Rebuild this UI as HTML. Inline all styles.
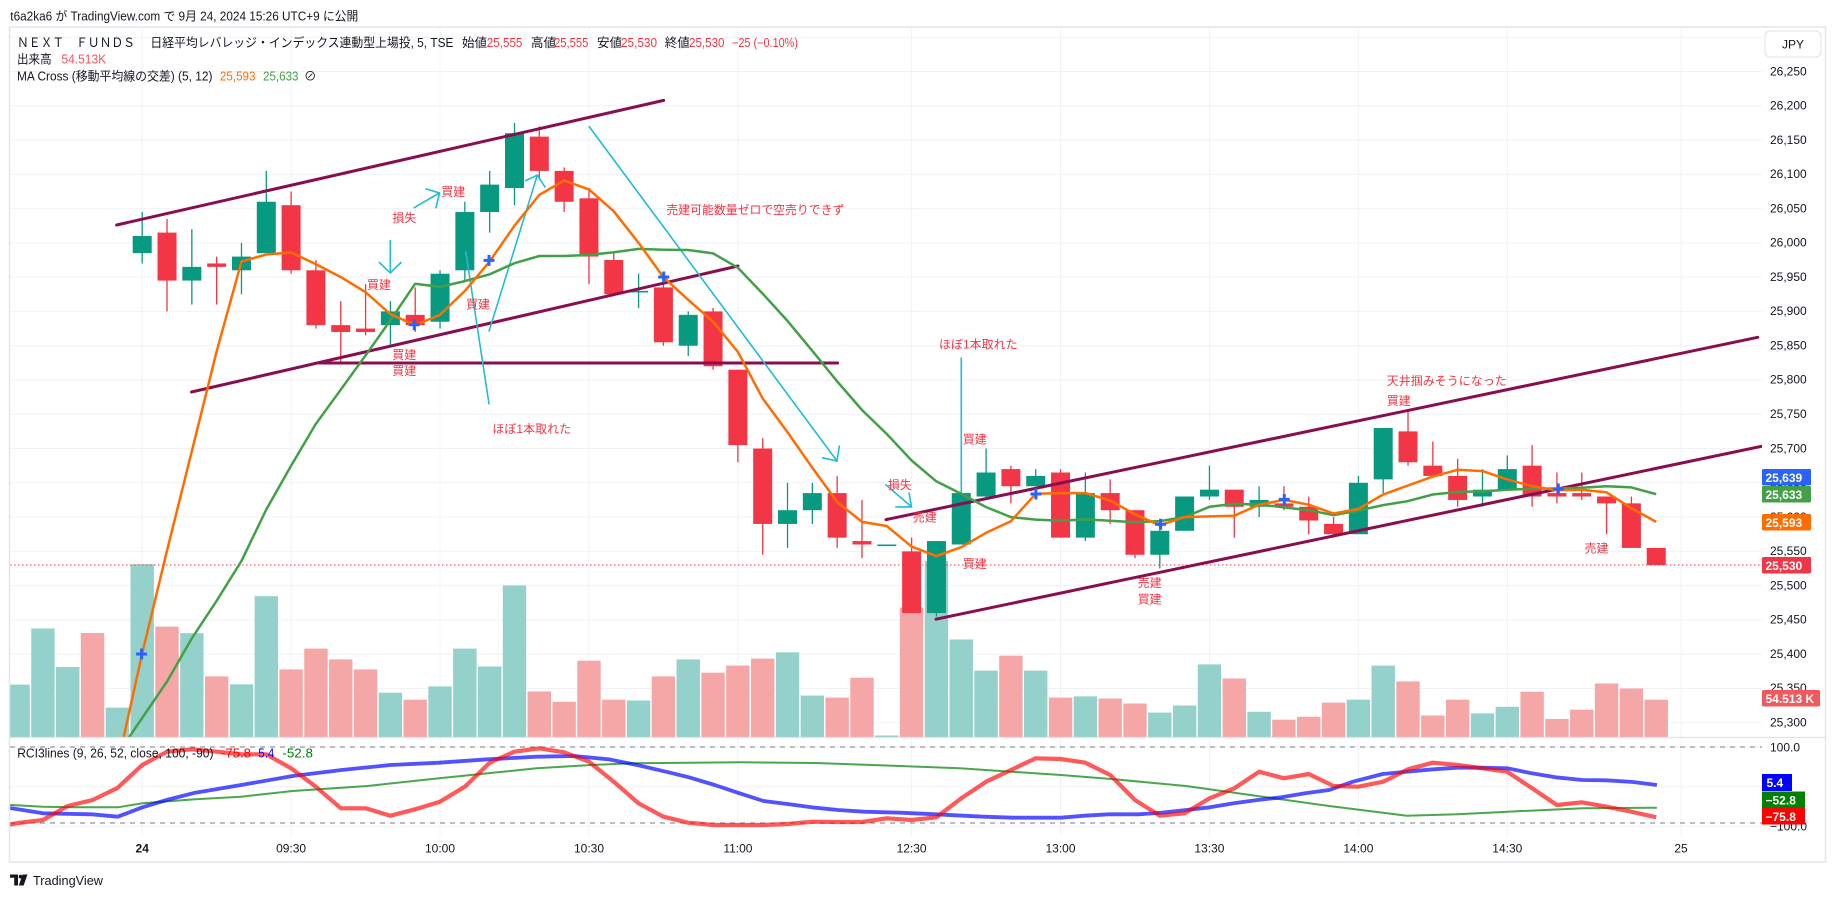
<!DOCTYPE html>
<html><head><meta charset="utf-8">
<style>
html,body{margin:0;padding:0;background:#fff;width:1835px;height:897px;overflow:hidden}
svg{position:absolute;left:0;top:0;font-family:"Liberation Sans","Noto Sans CJK JP",sans-serif}
.t{fill:#131722;font-size:12.5px}
.a{fill:#f23645;font-size:12px;text-anchor:middle}
.as{fill:#f23645;font-size:12px}
.ax{fill:#131722;font-size:12px}
.tm{fill:#131722;font-size:12px;text-anchor:middle}
.bx{fill:#fff;font-size:12px;font-weight:bold}
</style></head>
<body>
<svg id="s" width="1835" height="897" xmlns="http://www.w3.org/2000/svg">
<defs>
<clipPath id="cm"><rect x="10" y="28" width="1752" height="709"/></clipPath>
<clipPath id="cr"><rect x="10" y="738" width="1752" height="98"/></clipPath>
</defs>
<rect x="0" y="0" width="1835" height="897" fill="#fff"/>
<g id="grid"></g>
<g id="main" clip-path="url(#cm)"></g>
<g id="draw" clip-path="url(#cm)">
<g stroke="#880e4f" stroke-width="3" stroke-linecap="round" fill="none">
<line x1="116.6" y1="225" x2="663.7" y2="100.4"/>
<line x1="191.5" y1="392" x2="738" y2="266"/>
<line x1="319.5" y1="363" x2="837.6" y2="363"/>
<line x1="886" y1="519.6" x2="1757.7" y2="337.3"/>
<line x1="936" y1="619.2" x2="1762" y2="446.2"/>
</g>
<g stroke="#22bcd6" stroke-width="1.6" fill="none" stroke-linecap="round">
<line x1="390.3" y1="240.5" x2="390.3" y2="272.9"/>
<polyline points="379.3,262.5 390.3,272.9 401,262.5"/>
<line x1="414.3" y1="207.6" x2="439.4" y2="193"/>
<polyline points="426,188.9 439.6,193.1 436,207.6"/>
<line x1="465.8" y1="252" x2="489" y2="403.8"/>
<line x1="489.1" y1="331" x2="537.3" y2="175.2"/>
<polyline points="525.7,180.6 537.3,175.2 545,187"/>
<line x1="589.2" y1="126.6" x2="837" y2="461"/>
<polyline points="822.7,457.8 837,461 839.3,446.2"/>
<line x1="885.9" y1="484.8" x2="911.5" y2="506.9"/>
<polyline points="895.8,506.9 911.5,506.9 909.1,493.2"/>
<line x1="961.3" y1="358" x2="961.3" y2="494"/>
</g>
</g>
<g id="mas" clip-path="url(#cm)"></g>
<g id="cross"></g>
<g id="rci" clip-path="url(#cr)"></g>

<!-- frame -->
<rect x="9.5" y="27" width="1816" height="835" fill="none" stroke="#e3e6ec" stroke-width="1.5"/>
<line x1="10" y1="737.5" x2="1826" y2="737.5" stroke="#e0e3eb" stroke-width="1.2"/>

<!-- header -->
<text x="10.3" y="20.5" class="t" font-size="13" textLength="348" lengthAdjust="spacingAndGlyphs">t6a2ka6 が TradingView.com で 9月 24, 2024 15:26 UTC+9 に公開</text>

<!-- legend -->
<text x="17" y="47" class="t" textLength="118" lengthAdjust="spacingAndGlyphs">ＮＥＸＴ　ＦＵＮＤＳ</text>
<text x="150.4" y="47" class="t" textLength="303" lengthAdjust="spacingAndGlyphs">日経平均レバレッジ・インデックス連動型上場投, 5, TSE</text>
<text x="462" y="47" class="t">始値</text><text x="486.8" y="47" class="t" style="fill:#f23645" textLength="35.6" lengthAdjust="spacingAndGlyphs">25,555</text>
<text x="531" y="47" class="t">高値</text><text x="554" y="47" class="t" style="fill:#f23645" textLength="34.4" lengthAdjust="spacingAndGlyphs">25,555</text>
<text x="597" y="47" class="t">安値</text><text x="621" y="47" class="t" style="fill:#f23645" textLength="36" lengthAdjust="spacingAndGlyphs">25,530</text>
<text x="664.8" y="47" class="t">終値</text><text x="689" y="47" class="t" style="fill:#f23645" textLength="35.5" lengthAdjust="spacingAndGlyphs">25,530</text>
<text x="732" y="47" class="t" style="fill:#f23645" textLength="66" lengthAdjust="spacingAndGlyphs">−25 (−0.10%)</text>
<text x="17" y="63.7" class="t" textLength="34.7" lengthAdjust="spacingAndGlyphs">出来高</text>
<text x="61.4" y="63.7" class="t" style="fill:#f7525f" textLength="44.8" lengthAdjust="spacingAndGlyphs">54.513K</text>
<text x="17" y="80.4" class="t" textLength="195.4" lengthAdjust="spacingAndGlyphs">MA Cross (移動平均線の交差) (5, 12)</text>
<text x="219.9" y="80.4" class="t" style="fill:#ff6d00" textLength="35.6" lengthAdjust="spacingAndGlyphs">25,593</text>
<text x="263" y="80.4" class="t" style="fill:#43a047" textLength="35.5" lengthAdjust="spacingAndGlyphs">25,633</text>
<text x="304" y="80.4" class="t">⊘</text>

<!-- annotations -->
<text x="404.3" y="221.9" class="a">損失</text>
<text x="453.2" y="196.1" class="a">買建</text>
<text x="379" y="288.8" class="a">買建</text>
<text x="478" y="308.3" class="a">買建</text>
<text x="404.3" y="359.1" class="a">買建</text>
<text x="404.3" y="374.8" class="a">買建</text>
<text x="492.4" y="433" class="as">ほぼ1本取れた</text>
<text x="666.4" y="214" class="as" textLength="178" lengthAdjust="spacingAndGlyphs">売建可能数量ゼロで空売りできず</text>
<text x="939" y="348.7" class="as">ほぼ1本取れた</text>
<text x="974.7" y="443.3" class="a">買建</text>
<text x="899.8" y="489.1" class="a">損失</text>
<text x="924.8" y="521.6" class="a">売建</text>
<text x="974.7" y="568.1" class="a">買建</text>
<text x="1149.6" y="586.8" class="a">売建</text>
<text x="1149.6" y="603.4" class="a">買建</text>
<text x="1386.7" y="385.2" class="as">天井掴みそうになった</text>
<text x="1386.7" y="405.2" class="as">買建</text>
<text x="1596.5" y="552.7" class="a">売建</text>

<!-- RCI legend -->
<text x="17.2" y="757.5" class="t" textLength="196.3" lengthAdjust="spacingAndGlyphs">RCI3lines (9, 26, 52, close, 100, -90)</text>
<text x="221" y="757.5" class="t" style="fill:#ff0000" textLength="30" lengthAdjust="spacingAndGlyphs">-75.8</text>
<text x="258.3" y="757.5" class="t" style="fill:#0000ff" textLength="16" lengthAdjust="spacingAndGlyphs">5.4</text>
<text x="282.4" y="757.5" class="t" style="fill:#008000" textLength="30.5" lengthAdjust="spacingAndGlyphs">-52.8</text>

<g id="paxis"></g>

<!-- time axis -->
<text x="142.2" y="852.5" class="tm" font-weight="bold">24</text>
<text x="291.1" y="852.5" class="tm">09:30</text>
<text x="440" y="852.5" class="tm">10:00</text>
<text x="589" y="852.5" class="tm">10:30</text>
<text x="737.9" y="852.5" class="tm">11:00</text>
<text x="911.6" y="852.5" class="tm">12:30</text>
<text x="1060.5" y="852.5" class="tm">13:00</text>
<text x="1209.4" y="852.5" class="tm">13:30</text>
<text x="1358.4" y="852.5" class="tm">14:00</text>
<text x="1507.3" y="852.5" class="tm">14:30</text>
<text x="1681" y="852.5" class="tm">25</text>

<!-- price axis labels -->
<text x="1770" y="75.3" class="ax">26,250</text>
<text x="1770" y="109.6" class="ax">26,200</text>
<text x="1770" y="143.9" class="ax">26,150</text>
<text x="1770" y="178.1" class="ax">26,100</text>
<text x="1770" y="212.4" class="ax">26,050</text>
<text x="1770" y="246.7" class="ax">26,000</text>
<text x="1770" y="280.9" class="ax">25,950</text>
<text x="1770" y="315.2" class="ax">25,900</text>
<text x="1770" y="349.5" class="ax">25,850</text>
<text x="1770" y="383.7" class="ax">25,800</text>
<text x="1770" y="418" class="ax">25,750</text>
<text x="1770" y="452.3" class="ax">25,700</text>
<text x="1770" y="486.5" class="ax">25,650</text>
<text x="1770" y="520.8" class="ax">25,600</text>
<text x="1770" y="555.1" class="ax">25,550</text>
<text x="1770" y="589.3" class="ax">25,500</text>
<text x="1770" y="623.6" class="ax">25,450</text>
<text x="1770" y="657.9" class="ax">25,400</text>
<text x="1770" y="692.1" class="ax">25,350</text>
<text x="1770" y="726.4" class="ax">25,300</text>
<text x="1770" y="751.5" class="ax">100.0</text>
<text x="1770" y="830.5" class="ax">−100.0</text>

<!-- value boxes -->
<rect x="1762" y="469" width="49" height="16.5" rx="1.5" fill="#2962ff"/><text x="1765.5" y="481.8" class="bx">25,639</text>
<rect x="1762" y="486" width="49" height="16.5" rx="1.5" fill="#43a047"/><text x="1765.5" y="498.8" class="bx">25,633</text>
<rect x="1762" y="514" width="49" height="16.5" rx="1.5" fill="#ff6d00"/><text x="1765.5" y="526.8" class="bx">25,593</text>
<rect x="1762" y="557" width="49" height="16.5" rx="1.5" fill="#f23645"/><text x="1765.5" y="569.8" class="bx">25,530</text>
<rect x="1762" y="690" width="58" height="16.5" rx="1.5" fill="#f05a5e"/><text x="1765.5" y="702.8" class="bx">54.513 K</text>
<rect x="1762" y="774" width="30" height="17" fill="#0000ff"/><text x="1766.5" y="787" class="bx">5.4</text>
<rect x="1762" y="791.5" width="43" height="16.5" fill="#008000"/><text x="1765.5" y="804.3" class="bx">−52.8</text>
<rect x="1762" y="808" width="43" height="16.5" fill="#ff0000"/><text x="1765.5" y="820.8" class="bx">−75.8</text>

<!-- JPY -->
<rect x="1765" y="31" width="56" height="26" rx="5" fill="#fff" stroke="#e0e3eb"/>
<text x="1793" y="48.5" class="ax" text-anchor="middle">JPY</text>

<!-- logo -->
<g fill="#131722">
<rect x="10" y="874.5" width="8" height="3.2"/>
<rect x="14.2" y="874.5" width="3.8" height="11"/>
<circle cx="20.6" cy="876.6" r="1.9"/>
<polygon points="22.6,874.5 27.5,874.5 23.6,885.5 18.8,885.5"/>
</g>
<text x="33" y="885" class="t" font-size="13.5" textLength="70" lengthAdjust="spacingAndGlyphs">TradingView</text>
</svg>

<script>
(function(){
var NS='http://www.w3.org/2000/svg';
function el(p,t,a){var e=document.createElementNS(NS,t);for(var k in a)e.setAttribute(k,a[k]);p.appendChild(e);return e;}
function X(i){return 142.2+24.82*i;}
function Y(p){return 71.5+(26250-p)*0.6855;}
var G='#089981',R='#f23645';
var grid=document.getElementById('grid');
for(var p=26300;p>=25300;p-=50){var y=Y(p);el(grid,'line',{x1:10,x2:1762,y1:y,y2:y,stroke:'#f0f2f6','stroke-width':1});}
[0,6,12,18,24,31,37,43,49,55,62].forEach(function(i){var x=X(i);el(grid,'line',{x1:x,x2:x,y1:28,y2:836,stroke:'#f0f2f6','stroke-width':1});});
[747,786.7,826.4].forEach(function(y){el(grid,'line',{x1:10,x2:1762,y1:y,y2:y,stroke:'#f0f2f6','stroke-width':1});});

var main=document.getElementById('main');
var vol=[[-5,684.6,'g'],[-4,628.5,'g'],[-3,667,'g'],[-2,633,'r'],[-1,707.6,'g'],[0,564.2,'g'],[1,626.6,'r'],[2,633.2,'g'],[3,676.4,'r'],[4,684.3,'g'],[5,596.2,'g'],[6,669.4,'r'],[7,648.6,'r'],[8,659.4,'r'],[9,669.4,'r'],[10,692.7,'g'],[11,699.7,'r'],[12,686.4,'g'],[13,648.6,'g'],[14,666.5,'g'],[15,585.4,'g'],[16,691.4,'r'],[17,701.8,'r'],[18,660.7,'r'],[19,699.7,'r'],[20,700.5,'g'],[21,676.4,'r'],[22,659.4,'g'],[23,672.7,'r'],[24,665.6,'r'],[25,658.6,'r'],[26,652.3,'g'],[27,695.6,'g'],[28,697.6,'r'],[29,677.7,'r'],[30,735.5,'g'],[31,607.5,'r'],[32,560.9,'g'],[33,639.5,'g'],[34,670.6,'g'],[35,655.7,'r'],[36,670.6,'g'],[37,697.6,'r'],[38,696.4,'g'],[39,698.5,'r'],[40,703.5,'r'],[41,712.6,'g'],[42,705.5,'g'],[43,664.4,'g'],[44,678.5,'r'],[45,711.8,'g'],[46,719.7,'r'],[47,716.8,'r'],[48,702.6,'r'],[49,699.7,'g'],[50,665.6,'g'],[51,681.4,'r'],[52,715.5,'r'],[53,699.7,'r'],[54,713.4,'g'],[55,706.8,'g'],[56,691.8,'r'],[57,718.9,'r'],[58,709.7,'r'],[59,683.5,'r'],[60,688.5,'r'],[61,699.7,'r']];
vol.forEach(function(v){el(main,'rect',{x:X(v[0])-11.7,y:v[1],width:23.4,height:737-v[1],fill:v[2]=='g'?'#93d1ca':'#f5a7a8'});});

el(main,'line',{x1:10,x2:1762,y1:565,y2:565,stroke:'#f23645','stroke-width':1,'stroke-dasharray':'1.5 2.5'});

var D=[
[25985,26045,25970,26010],[26015,26035,25900,25945],[25945,26020,25910,25965],[25970,25980,25910,25965],
[25960,26000,25925,25980],[25985,26105,25985,26060],[26055,26075,25955,25960],[25960,25975,25875,25880],
[25880,25915,25825,25870],[25875,25940,25865,25870],[25880,25915,25850,25900],[25895,25935,25870,25880],
[25885,25960,25875,25955],[25960,26060,25945,26045],[26045,26105,26015,26085],[26080,26175,26055,26160],
[26155,26170,26095,26105],[26105,26110,26045,26060],[26065,26080,25940,25980],[25975,25985,25925,25925],
[25930,25955,25905,25930],[25935,25955,25850,25855],[25850,25900,25835,25895],[25900,25905,25815,25820],
[25815,25815,25680,25705],[25700,25715,25545,25590],[25590,25650,25555,25610],[25610,25650,25590,25635],
[25635,25660,25555,25570],[25565,25625,25540,25560],[25560,25560,25560,25560],[25550,25570,25460,25460],
[25460,25565,25455,25565],[25560,25650,25560,25635],[25630,25700,25625,25665],[25670,25675,25620,25645],
[25645,25670,25645,25660],[25665,25670,25570,25570],[25570,25665,25565,25635],[25635,25655,25590,25610],
[25610,25610,25540,25545],[25545,25595,25525,25580],[25580,25630,25580,25630],[25630,25675,25625,25640],
[25640,25640,25570,25615],[25615,25645,25600,25625],[25620,25645,25610,25615],[25615,25630,25575,25595],
[25590,25600,25570,25575],[25575,25660,25575,25650],[25655,25730,25635,25730],[25725,25755,25675,25680],
[25675,25710,25660,25660],[25660,25685,25615,25625],[25630,25670,25615,25640],[25640,25690,25640,25670],
[25675,25705,25615,25630],[25635,25665,25620,25630],[25635,25665,25625,25630],[25630,25630,25575,25620],
[25620,25630,25555,25555],[25555,25555,25530,25530]];
D.forEach(function(d,i){
 var o=d[0],h=d[1],l=d[2],c=d[3];var col=c>=o?G:R;var x=X(i);
 if(h>l) el(main,'line',{x1:x,x2:x,y1:Y(h),y2:Y(l),stroke:col,'stroke-width':1.3});
 var yt=Y(Math.max(o,c)),yb=Y(Math.min(o,c));
 el(main,'rect',{x:x-9.5,y:yt,width:19,height:Math.max(yb-yt,1.6),fill:col});
});

// moving averages
var cl=D.map(function(d){return d[3];});
var ma5={'-1':25238,'0':25401,'1':25551,'2':25696,'3':25842};
var ma12={'-1':25254,'0':25307,'1':25360,'2':25423,'3':25478,'4':25536,'5':25611,'6':25675,'7':25736,'8':25786,'9':25836,'10':25887};
for(var i=4;i<62;i++){var s=0;for(var j=i-4;j<=i;j++)s+=cl[j];ma5[i]=s/5;}
for(var i=11;i<62;i++){var s=0;for(var j=i-11;j<=i;j++)s+=cl[j];ma12[i]=s/12;}
var mas=document.getElementById('mas');
function pl(m){var pts=[];for(var i=-1;i<62;i++){pts.push(X(i).toFixed(1)+','+Y(m[i]).toFixed(1));}return pts.join(' ');}
el(mas,'polyline',{points:pl(ma12),fill:'none',stroke:'#43a047','stroke-width':2.5,'stroke-linejoin':'round'});
el(mas,'polyline',{points:pl(ma5),fill:'none',stroke:'#ff6d00','stroke-width':2.5,'stroke-linejoin':'round'});

var cr=document.getElementById('cross');
[[141.6,654],[414.3,324.8],[489,260.4],[663.7,277],[1035.9,494],[1160.6,524.3],[1284.3,499.4],[1558.3,489]].forEach(function(q){
 var x=q[0],y=q[1];
 el(cr,'path',{d:'M'+(x-5.5)+' '+y+'H'+(x+5.5)+'M'+x+' '+(y-5.5)+'V'+(y+5.5),stroke:'#2962ff','stroke-width':3});
});

// RCI pane
var rci=document.getElementById('rci');
el(rci,'line',{x1:10,x2:1762,y1:747,y2:747,stroke:'#787b86','stroke-width':1,'stroke-dasharray':'5 5'});
el(rci,'line',{x1:10,x2:1762,y1:823,y2:823,stroke:'#787b86','stroke-width':1,'stroke-dasharray':'5 5'});
var green=[[0,805],[11.5,805],[43,806.7],[74.6,807.3],[117.7,807.3],[142.4,803.3],[195.2,799.3],[241.1,796.7],[292.8,791],[367.4,786],[439.2,778.3],[488,773.3],[536.7,768.3],[591.3,765],[631.5,763.3],[689,762.7],[740.5,762.3],[815.2,763],[900,766],[959.6,768.3],[1060.9,775],[1114.5,779.3],[1186.1,786],[1257.6,796],[1329.1,806],[1406.6,815.7],[1457.2,814.3],[1507.9,811.7],[1582.4,808.3],[1656.9,807.7]];
var blue=[[0,807],[11.5,808.3],[43,813.3],[91.8,814.3],[117.7,816.7],[142.4,807.3],[166.5,800],[195.2,792.7],[241.1,785],[292.8,776],[341.6,770],[390.4,765],[439.2,762.7],[488,759.3],[536.7,756.7],[574,756],[608.5,759.3],[637.2,765],[665.9,771.7],[689,777.3],[714.7,785],[737.7,792.7],[763.5,801],[789.3,804.3],[815.2,807.7],[838.1,810],[863.9,811.7],[900,812.7],[935.8,814.3],[983.4,816.7],[1013.2,817.7],[1060.9,817.7],[1084.7,815.7],[1108.6,814.3],[1138.4,814.3],[1162.2,812.7],[1186.1,810],[1209.9,807.3],[1233.7,803.3],[1257.6,800],[1281.4,797.3],[1305.2,793.3],[1329.1,790],[1352.9,781.7],[1382.7,774],[1406.6,771.7],[1433.4,769.3],[1457.2,767.7],[1481.1,767.7],[1507.9,768.3],[1531.7,773.3],[1555.5,777.3],[1582.4,780],[1606.2,780.3],[1633,782],[1656.9,785]];
var redY={'-6':828,'-5':823,'-4':820,'-3':806,'-2':800,'-1':788,'0':765,'1':751.7,'2':749.3,'3':751.7,'4':754.3,'5':754.3,'6':768.3,'7':786.7,'8':808.3,'9':808.3,'10':815.7,'11':809.3,'12':801.7,'13':786.7,'14':762.7,'15':751.7,'16':748.3,'17':752.3,'18':761.7,'19':781.7,'20':803.3,'21':816.7,'22':822.7,'23':825,'24':825,'25':825,'26':824,'27':821.7,'28':822,'29':822,'30':818.3,'31':820,'32':817.3,'33':798.3,'34':781.7,'35':770,'36':758.3,'37':759,'38':762.7,'39':775,'40':800,'41':815.7,'42':813.3,'43':798.3,'44':788.3,'45':771.7,'46':778.3,'47':774,'48':786,'49':786.7,'50':781.7,'51':769.3,'52':762.7,'53':765,'54':768.3,'55':771.7,'56':788.3,'57':805,'58':802.3,'59':806.7,'60':811.7,'61':817.3};
var red=[];for(var i=-6;i<62;i++)red.push([X(i),redY[i]]);
function pp(a){return a.map(function(q){return q[0].toFixed(1)+','+q[1];}).join(' ');}
el(rci,'polyline',{points:pp(green),fill:'none',stroke:'#008000','stroke-opacity':0.7,'stroke-width':2,'stroke-linejoin':'round'});
el(rci,'polyline',{points:pp(blue),fill:'none',stroke:'#0000ff','stroke-opacity':0.68,'stroke-width':3.8,'stroke-linejoin':'round'});
el(rci,'polyline',{points:pp(red),fill:'none',stroke:'#ff0000','stroke-opacity':0.65,'stroke-width':4.2,'stroke-linejoin':'round'});
})();
</script>
</body></html>
